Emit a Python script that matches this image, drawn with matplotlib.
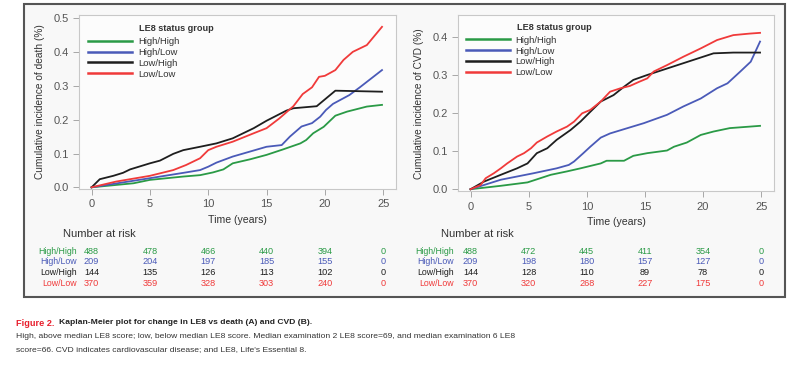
import matplotlib
matplotlib.use('Agg')
import matplotlib.pyplot as plt
import matplotlib.patches as mpatches
import matplotlib.transforms as mtransforms

plt.rcParams['font.family'] = ['Liberation Sans', 'DejaVu Sans']

groups = ['High/High', 'High/Low', 'Low/High', 'Low/Low']
colors = ['#2a9a46', '#4a5ab8', '#1e1e1e', '#f03a3a']

# panel A: death
death_t = {
    'High/High': [0, 3.6, 5, 7.9, 9.3, 10.4, 11.3, 12.1, 13.6, 15, 16.4, 17.9, 18.4, 19, 19.9, 20.9, 21.9, 23.6, 24.9],
    'High/Low': [0, 5, 7.9, 9.3, 10, 10.7, 12.1, 13.6, 15, 16.3, 17, 18, 18.9, 19.6, 20.1, 20.7, 22.1, 23, 24.9],
    'Low/High': [0, 0.7, 1.86, 2.7, 3.3, 5, 5.86, 7, 7.86, 9.3, 10.7, 12.1, 13.9, 15, 16.7, 17.3, 19.3, 20.1, 20.9, 24.9],
    'Low/Low': [0, 2.1, 5, 7, 8.1, 9.3, 10, 10.7, 12.1, 13.9, 15, 16.1, 17.3, 18.1, 18.9, 19.5, 20, 20.9, 21.6, 22.4, 23.6, 24.9],
}
death_y = {
    'High/High': [0, 0.012, 0.022, 0.032, 0.036, 0.044, 0.053, 0.071, 0.083, 0.096, 0.112, 0.13, 0.14, 0.16, 0.179, 0.212, 0.224, 0.239, 0.244],
    'High/Low': [0, 0.027, 0.043, 0.051, 0.061, 0.073, 0.091, 0.106, 0.12, 0.125, 0.15, 0.18, 0.19, 0.209, 0.229, 0.247, 0.273, 0.296, 0.347],
    'Low/High': [0, 0.024, 0.034, 0.043, 0.053, 0.071, 0.079, 0.099, 0.11, 0.12, 0.13, 0.145, 0.175, 0.197, 0.227, 0.234, 0.24, 0.263, 0.286, 0.283],
    'Low/Low': [0, 0.017, 0.034, 0.051, 0.066, 0.086, 0.11, 0.12, 0.135, 0.16, 0.175, 0.204, 0.24, 0.276, 0.296, 0.327, 0.33, 0.347, 0.377, 0.401, 0.421, 0.475],
}

# panel B: CVD
cvd_t = {
    'High/High': [0, 2.6, 4.9, 6, 6.9, 8.3, 9.45, 11.2, 11.7, 13.2, 14, 15.2, 16.9, 17.5, 18.6, 19.8, 20.9, 22.3, 24.9],
    'High/Low': [0, 2.6, 5.4, 7.4, 8.45, 8.9, 9.7, 10.3, 11.2, 12, 13.5, 14.9, 16.9, 18.3, 19.8, 21.2, 22.1, 23.2, 24.1, 24.9],
    'Low/High': [0, 1.15, 2.6, 4, 4.9, 5.7, 6.6, 7.4, 8.6, 9.45, 10.3, 11.2, 12.3, 13.2, 14, 15.2, 16.9, 18.3, 19.8, 20.9, 22.6, 24.9],
    'Low/Low': [0, 0.86, 1.3, 2, 2.6, 3.15, 4, 4.6, 5.2, 5.7, 6.6, 7.4, 8.3, 8.9, 9.6, 10.3, 11.2, 12, 12.9, 13.7, 14.5, 15.2, 15.75, 16.9, 18.3, 19.8, 21.2, 22.6, 24, 24.9],
}
cvd_y = {
    'High/High': [0, 0.009, 0.018, 0.029, 0.038, 0.047, 0.055, 0.068, 0.075, 0.075, 0.088, 0.095, 0.102, 0.112, 0.123, 0.143, 0.152, 0.161, 0.167],
    'High/Low': [0, 0.025, 0.042, 0.055, 0.064, 0.073, 0.095, 0.112, 0.136, 0.147, 0.161, 0.174, 0.196, 0.218, 0.239, 0.266, 0.279, 0.31, 0.336, 0.389],
    'Low/High': [0, 0.02, 0.038, 0.055, 0.068, 0.095, 0.108, 0.13, 0.156, 0.178, 0.204, 0.231, 0.248, 0.27, 0.288, 0.301, 0.318, 0.332, 0.347, 0.358, 0.36, 0.36],
    'Low/Low': [0, 0.011, 0.029, 0.042, 0.055, 0.068, 0.086, 0.095, 0.108, 0.123, 0.139, 0.152, 0.165, 0.178, 0.2, 0.209, 0.231, 0.257, 0.266, 0.272, 0.283, 0.292, 0.31, 0.327, 0.349, 0.371, 0.393, 0.406, 0.41, 0.412],
}

risk_times = [0, 5, 10, 15, 20, 25]
death_risk = {
    'High/High': [488, 478, 466, 440, 394, 0],
    'High/Low': [209, 204, 197, 185, 155, 0],
    'Low/High': [144, 135, 126, 113, 102, 0],
    'Low/Low': [370, 359, 328, 303, 240, 0],
}
cvd_risk = {
    'High/High': [488, 472, 445, 411, 354, 0],
    'High/Low': [209, 198, 180, 157, 127, 0],
    'Low/High': [144, 128, 110, 89, 78, 0],
    'Low/Low': [370, 320, 268, 227, 175, 0],
}

W, H = 800, 368
fig = plt.figure(figsize=(8, 3.68), dpi=100)
fig.patch.set_facecolor('white')

# outer box around both panels
box = mpatches.Rectangle((24 / W, 1 - 297 / H), (785 - 24) / W, (297 - 4) / H,
                         transform=fig.transFigure, facecolor='#f8f8f8',
                         edgecolor='#555555', linewidth=1.5, zorder=-10)
fig.patches.append(box)


def draw_panel(rect, ts, ys, risk, ylim, yticks, ylabel, lab_x, nar_x, leg_pos, title_pos):
    ax = fig.add_axes(rect)
    ax.set_facecolor('#fcfcfc')
    for g, c in zip(groups, colors):
        ax.plot(ts[g], ys[g], color=c, linewidth=1.3, label=g)
    ax.set_xlim(-1.08, 26.1)
    ax.set_ylim(*ylim)
    ax.set_xticks(risk_times)
    ax.set_yticks(yticks)
    ax.set_yticklabels(['%.1f' % v for v in yticks])
    for s in ax.spines.values():
        s.set_color('#c8c8c8')
        s.set_linewidth(0.8)
    ax.tick_params(colors='#9a9a9a', labelcolor='#555555', labelsize=8, length=4, width=0.6)
    ax.set_xlabel('Time (years)', fontsize=7.6, color='#333333', labelpad=4)
    ax.set_ylabel(ylabel, fontsize=7.3, color='#333333', labelpad=6)
    leg = ax.legend(loc='upper left', bbox_to_anchor=leg_pos, frameon=False,
                    fontsize=6.8, handlelength=4.7, handletextpad=0.6,
                    labelspacing=0.2, borderaxespad=0, borderpad=0)
    for line in leg.get_lines():
        line.set_linewidth(1.8)
    for t in leg.get_texts():
        t.set_color('#333333')
    ax.text(title_pos[0], title_pos[1], 'LE8 status group', transform=ax.transAxes,
            fontsize=6.6, fontweight='bold', color='#333333', ha='left', va='center')

    # number at risk table under the axis
    tr = mtransforms.blended_transform_factory(ax.transData, fig.transFigure)
    fig.text(nar_x / W, 1 - 234 / H, 'Number at risk', fontsize=8, color='#333333',
             ha='left', va='center')
    rows_y = [251, 261.7, 272.7, 283.3]
    for g, c, ry in zip(groups, colors, rows_y):
        ax.text(lab_x, 1 - ry / H, g, transform=tr, ha='right', va='center',
                fontsize=6.3, color=c, clip_on=False)
        for t, n in zip(risk_times, risk[g]):
            ax.text(t, 1 - ry / H, str(n), transform=tr, ha='center', va='center',
                    fontsize=6.6, color=c, clip_on=False)
    return ax


draw_panel([79 / W, 1 - 189 / H, 317 / W, 174 / H], death_t, death_y, death_risk,
           (-0.005, 0.51), [0, 0.1, 0.2, 0.3, 0.4, 0.5],
           'Cumulative incidence of death (%)', -1.3, 63,
           (0.028, 0.874), (0.189, 0.92))
draw_panel([458 / W, 1 - 191.5 / H, 316 / W, 176.5 / H], cvd_t, cvd_y, cvd_risk,
           (-0.006, 0.459), [0, 0.1, 0.2, 0.3, 0.4],
           'Cumulative incidence of CVD (%)', -1.45, 441,
           (0.024, 0.883), (0.186, 0.928))

fig.text(16 / W, 1 - 323 / H, 'Figure 2.', color='#e8202e', fontweight='bold',
         fontsize=6.6, va='center')
fig.text(59 / W, 1 - 323 / H, 'Kaplan-Meier plot for change in LE8 vs death (A) and CVD (B).',
         color='#222222', fontweight='bold', fontsize=6.1, va='center')
fig.text(16 / W, 1 - 336.5 / H,
         'High, above median LE8 score; low, below median LE8 score. Median examination 2 LE8 score=69, and median examination 6 LE8',
         color='#333333', fontsize=6.1, va='center')
fig.text(16 / W, 1 - 350 / H,
         "score=66. CVD indicates cardiovascular disease; and LE8, Life's Essential 8.",
         color='#333333', fontsize=6.1, va='center')

plt.savefig('out.png', dpi=100)
plt.close()
